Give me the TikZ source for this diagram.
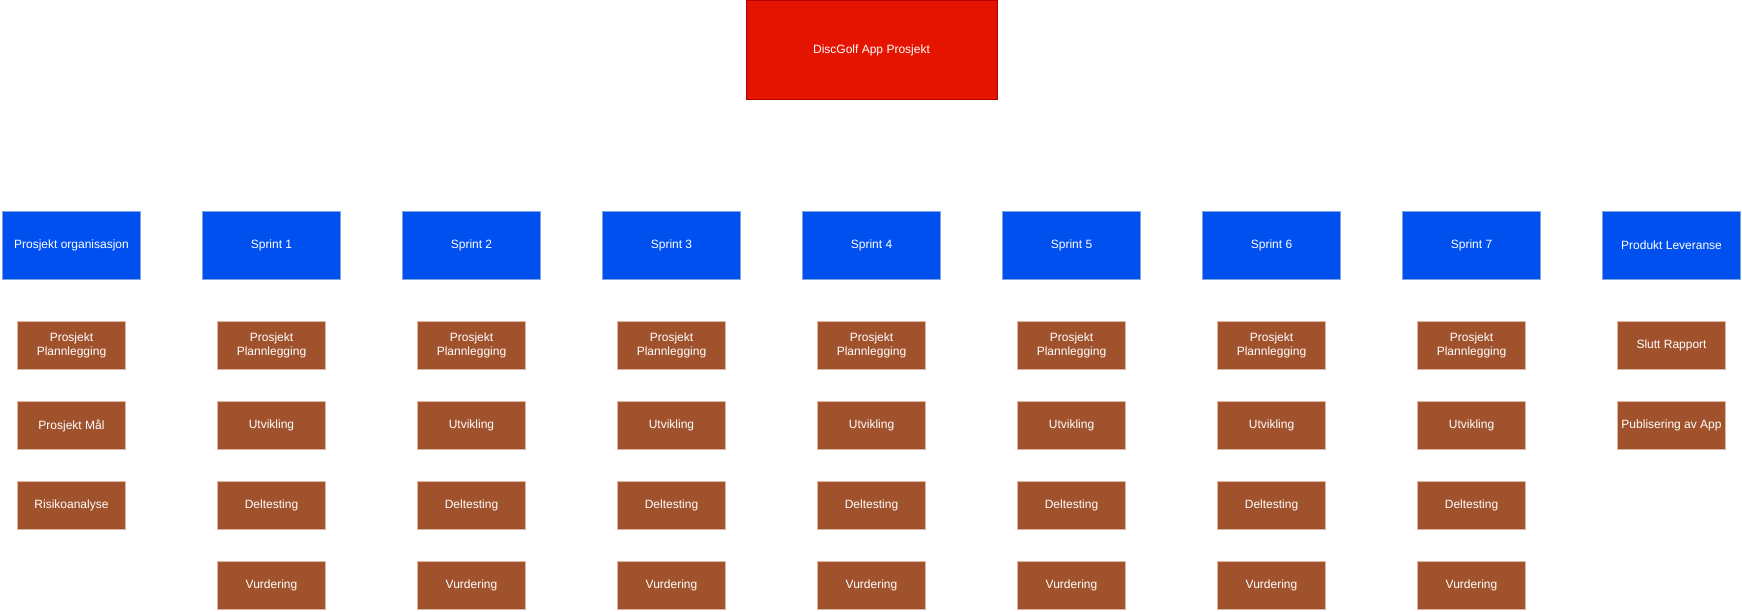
\documentclass[tikz,border=0pt]{standalone}
\usepackage{fontspec}
\setmainfont{Liberation Sans}
\definecolor{rootfill}{HTML}{E51400}
\definecolor{rootline}{HTML}{B20000}
\definecolor{phasefill}{HTML}{0050EF}
\definecolor{phaseline}{HTML}{7EA6E0}
\definecolor{taskfill}{HTML}{A0522D}
\definecolor{taskline}{HTML}{DDB8A4}
\begin{document}
\begin{tikzpicture}[x=1pt,y=-1pt,
  box/.style={rectangle, inner sep=0pt, line width=1pt, text=white,
    font=\fontsize{12}{14.4}\selectfont, align=center},
  rootbox/.style={box, fill=rootfill, draw=rootline, minimum width=251pt, minimum height=99pt},
  phasebox/.style={box, fill=phasefill, draw=phaseline, minimum width=138pt, minimum height=68pt},
  taskbox/.style={box, fill=taskfill, draw=taskline, minimum width=108pt, minimum height=48pt}]
\useasboundingbox (0,0) rectangle (1742,612);

% project root
\node[rootbox] (root) at (871.5,50.5) {DiscGolf App Prosjekt};

% phases
\node[phasebox] (org) at (71.5,245.5) {Prosjekt organisasjon};
\foreach \i in {1,...,7}{
  \node[phasebox] (s\i) at ({71.5+200*\i},245.5) {Sprint \i};
}
\node[phasebox] (lev) at (1671.5,245.5) {Produkt Leveranse};

% organisation tasks
\node[taskbox] (org1) at (71.5,345.5) {Prosjekt\\Plannlegging};
\node[taskbox] (org2) at (71.5,425.5) {Prosjekt Mål};
\node[taskbox] (org3) at (71.5,505.5) {Risikoanalyse};

% sprint tasks
\foreach \i in {1,...,7}{
  \node[taskbox] (s\i a) at ({71.5+200*\i},345.5) {Prosjekt\\Plannlegging};
  \node[taskbox] (s\i b) at ({71.5+200*\i},425.5) {Utvikling};
  \node[taskbox] (s\i c) at ({71.5+200*\i},505.5) {Deltesting};
  \node[taskbox] (s\i d) at ({71.5+200*\i},585.5) {Vurdering};
}

% delivery tasks
\node[taskbox] (lev1) at (1671.5,345.5) {Slutt Rapport};
\node[taskbox] (lev2) at (1671.5,425.5) {Publisering av App};
\end{tikzpicture}
\end{document}
